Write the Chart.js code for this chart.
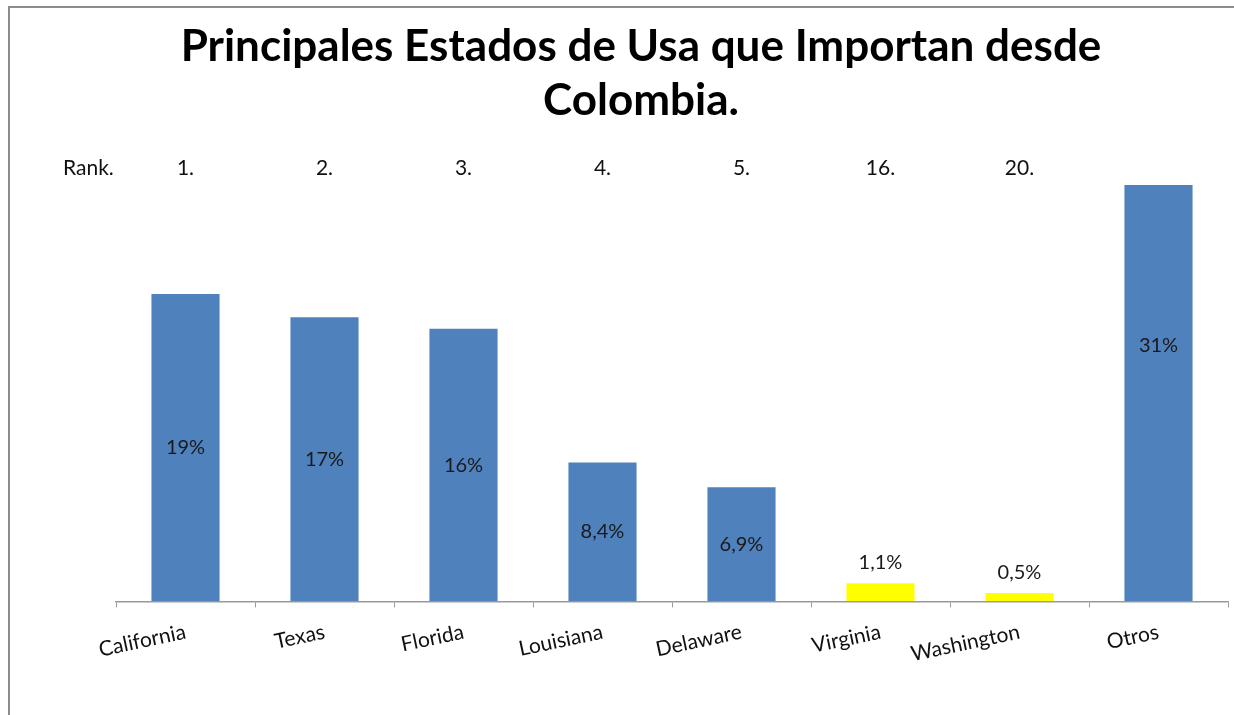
<!DOCTYPE html>
<html>
<head>
<meta charset="utf-8">
<script src="https://cdn.jsdelivr.net/npm/chart.js@4.4.1/dist/chart.umd.min.js"></script>
<style>
  html, body { margin: 0; padding: 0; background: #fff; }
  #wrap { width: 1234px; height: 715px; }
</style>
</head>
<body>
<div id="wrap"><canvas id="myChart" width="1234" height="715"></canvas></div>
<script>
// data (Otros runs past the top of the plot and is cut off)
const estados = ['California', 'Texas', 'Florida', 'Louisiana', 'Delaware', 'Virginia', 'Washington', 'Otros'];
const participacion = [18.6, 17.2, 16.5, 8.4, 6.9, 1.1, 0.5, 31];
const etiquetas = ['19%', '17%', '16%', '8,4%', '6,9%', '1,1%', '0,5%', '31%'];
const ranking = ['1.', '2.', '3.', '4.', '5.', '16.', '20.', ''];
const tituloLineas = ['Principales Estados de Usa que Importan desde', 'Colombia.'];

const azul = '#4F81BD';
const amarillo = '#FFFF00';
const FONT = 'Lato, "Open Sans", sans-serif';

// frame, title and rank row
const decoracion = {
  id: 'decoracion',
  beforeDraw(chart) {
    const ctx = chart.ctx;
    ctx.save();
    ctx.fillStyle = '#fff';
    ctx.fillRect(0, 0, chart.width, chart.height);
    ctx.strokeStyle = '#8c8c8c';
    ctx.lineWidth = 2;
    ctx.beginPath();
    ctx.moveTo(9, chart.height);
    ctx.lineTo(9, 7);
    ctx.lineTo(chart.width, 7);
    ctx.stroke();
    ctx.restore();
  },
  afterDraw(chart) {
    const ctx = chart.ctx;
    const xs = chart.scales.x;
    ctx.save();
    ctx.fillStyle = '#000';
    ctx.textAlign = 'center';
    ctx.textBaseline = 'middle';
    ctx.font = 'bold 44px ' + FONT;
    ctx.fillText(tituloLineas[0], 641, 47);
    ctx.fillText(tituloLineas[1], 641, 101);

    ctx.font = '21px ' + FONT;
    ctx.fillStyle = '#111';
    ctx.textAlign = 'left';
    ctx.fillText('Rank.', 63, 168);
    ctx.textAlign = 'center';
    ranking.forEach((r, i) => {
      if (r) ctx.fillText(r, xs.getPixelForValue(i), 168);
    });
    ctx.restore();
  }
};

// value labels on the bars
const etiquetasBarras = {
  id: 'etiquetasBarras',
  afterDatasetsDraw(chart) {
    const ctx = chart.ctx;
    const meta = chart.getDatasetMeta(0);
    ctx.save();
    ctx.font = '20px ' + FONT;
    ctx.fillStyle = '#1a1a1a';
    ctx.textAlign = 'center';
    ctx.textBaseline = 'middle';
    meta.data.forEach((bar, i) => {
      const alto = bar.base - bar.y;
      let y;
      if (alto > 40) {
        y = (bar.y + bar.base) / 2;
      } else {
        y = bar.y - 21;
      }
      ctx.fillText(etiquetas[i], bar.x, y);
    });
    ctx.restore();
  }
};

const colores = participacion.map((v, i) => (i === 5 || i === 6) ? amarillo : azul);

const config = {
  type: 'bar',
  data: {
    labels: estados,
    datasets: [{
      data: participacion,
      backgroundColor: colores,
      borderWidth: 0,
      barPercentage: 0.49,
      categoryPercentage: 1.0
    }]
  },
  options: {
    responsive: false,
    animation: false,
    layout: {
      padding: { top: 185, left: 116, right: 6, bottom: 36 }
    },
    plugins: {
      legend: { display: false },
      title: { display: false },
      tooltip: { enabled: false }
    },
    scales: {
      x: {
        grid: {
          offset: true,
          drawOnChartArea: false,
          drawTicks: true,
          tickLength: 6,
          color: '#999'
        },
        border: { display: true, color: '#999', width: 1.5 },
        ticks: {
          color: '#111',
          font: { family: FONT, size: 21 },
          minRotation: 12,
          maxRotation: 12,
          padding: 12,
          autoSkip: false
        }
      },
      y: {
        display: false,
        min: 0,
        max: 25.2
      }
    }
  },
  plugins: [decoracion, etiquetasBarras]
};

var myChart = new Chart(document.getElementById('myChart'), config);
</script>
</body>
</html>
